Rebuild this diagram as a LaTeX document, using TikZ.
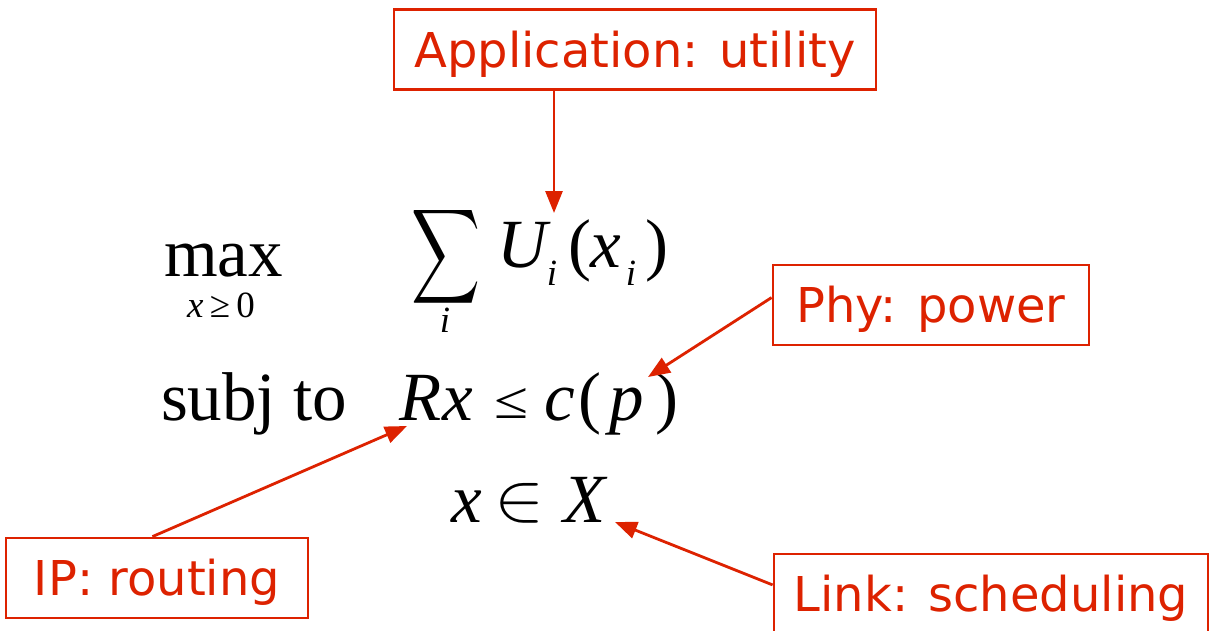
\documentclass[tikz,border=0pt]{standalone}
\usepackage{fontspec}
\setmainfont{Liberation Serif}
\newfontfamily\lblfont{DejaVu Sans}
\usepackage{graphicx}
\usetikzlibrary{arrows.meta,calc}
\definecolor{lblred}{RGB}{221,34,0}
\begin{document}
\begin{tikzpicture}[x=1pt,y=-1pt,
  big/.style={inner sep=0pt, anchor=base, font=\fontsize{69}{80}\selectfont},
  bigit/.style={inner sep=0pt, anchor=base, font=\fontsize{69}{80}\selectfont\itshape},
  small/.style={inner sep=0pt, anchor=base, font=\fontsize{37}{42}\selectfont\itshape},
  lbl/.style={draw=lblred, line width=2.8pt, text=lblred, font=\fontsize{48}{56}\selectfont\lblfont,
    inner sep=0pt, text height=35pt, text depth=0pt, minimum height=80pt},
  conn/.style={draw=lblred, line width=2.8pt, -{Triangle[length=22pt,width=17pt]}}
]
\useasboundingbox (0,0) rectangle (1216,630);
\fill[white] (0,0) rectangle (1216,630);

% label boxes
\node[lbl, minimum width=482pt] (app) at (635,49.5) {Application: utility};
\node[lbl, minimum width=316pt] (phy) at (931,305) {Phy: power};
\node[lbl, minimum width=302pt] (ip) at (157,578) {IP: routing};
\node[lbl, minimum width=434pt] (link) at (991,594) {Link: scheduling};

% objective
\node[big] (max) at (223.5,276) {max};
\node[small] (cond) at (221,317) {x\upshape\,≥\,0};
\node[inner sep=0pt] (sum) at (446.5,256.5) {\resizebox*{69pt}{106pt}{$\displaystyle\sum$}};
\node[small] (sumi) at (445,332) {i};
\node[bigit] (U) at (522,267) {U};
\node[small] (Ui) at (552,285) {i};
\node[big] (lp1) at (580,267) {(};
\node[bigit] (x1) at (606,267) {x};
\node[small] (xi) at (631,285) {i};
\node[big] (rp1) at (657,267) {)};

% constraints
\node[big] (subj) at (254,420) {subj to};
\node[bigit] (R) at (421,420) {R};
\node[bigit] (x2) at (458,420) {x};
\node[inner sep=0pt, anchor=south] (leq) at (511,419) {\resizebox{34pt}{30pt}{\upshape ≤}};
\node[bigit] (c) at (560,420) {c};
\node[big] (lp2) at (590,420) {(};
\node[bigit] (p) at (627,420) {p};
\node[big] (rp2) at (667,420) {)};

\node[bigit] (x3) at (467,522) {x};
\node[inner sep=0pt, anchor=south] (in) at (520,523) {\resizebox{50pt}{37pt}{$\in$}};
\node[bigit] (X) at (585,522) {X};

% arrow tips
\coordinate (tU) at (554,213);
\coordinate (tP) at (648,377);
\coordinate (tR) at (407,426);
\coordinate (tX) at (615,522);

\draw[conn] (app.south -| tU) -- (tU);
\draw[conn] ($(phy.north west)!0.41!(phy.south west)$) -- (tP);
\draw[conn] ($(ip.north west)!0.485!(ip.north east)$) -- (tR);
\draw[conn] ($(link.north west)!0.39!(link.south west)$) -- (tX);
\end{tikzpicture}
\end{document}
